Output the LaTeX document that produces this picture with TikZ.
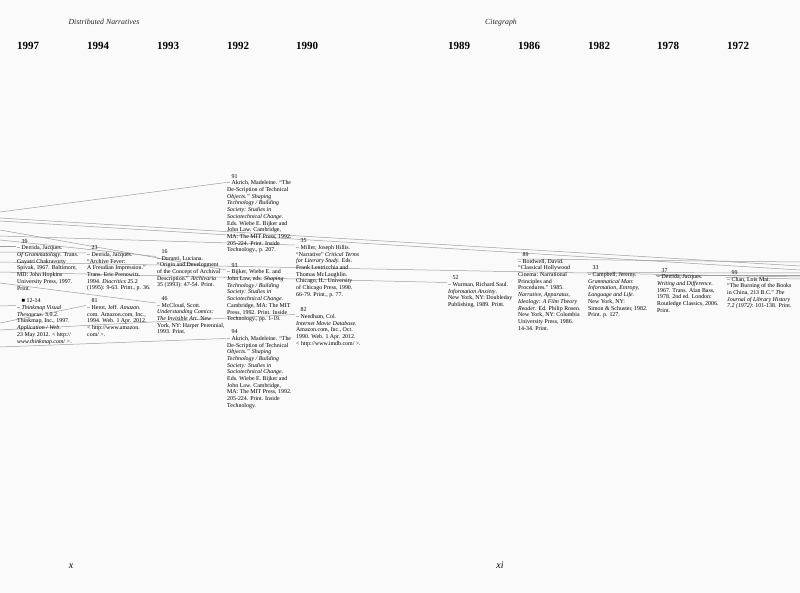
\documentclass[tikz,border=0pt]{standalone}
\usepackage{fontspec}
\setmainfont{Liberation Serif}
\begin{document}
\begin{tikzpicture}[x=1pt,y=-1pt,
  entry/.style={anchor=north west,inner sep=0pt,align=left,font=\fontsize{5.9}{6.7}\selectfont,text=black},
  year/.style={anchor=base west,inner sep=0pt,font=\fontsize{11}{13}\selectfont\bfseries},
  head/.style={anchor=base,inner sep=0pt,font=\fontsize{7.8}{9}\selectfont\itshape,text=black!85},
  pnum/.style={anchor=base,inner sep=0pt,font=\fontsize{10}{12}\selectfont\itshape},
  link/.style={draw=black!38,line width=0.5pt}]
\fill[white!98!black] (0,0) rectangle (800,593);
\useasboundingbox (0,0) rectangle (800,593);
\newcommand{\nr}[1]{\hspace*{4.5pt}#1}
% headers
\node[head] (hd1) at (104,25) {Distributed Narratives};
\node[head] (hd2) at (501,25) {Citegraph};
% years
\foreach \x/\y [count=\i] in {17/1997,87/1994,157/1993,227/1992,296/1990,448/1989,518/1986,588/1982,657/1978,727/1972}
  \node[year] (yr\i) at (\x,50) {\y};
% link end points
\coordinate (L1) at (0,212);  \coordinate (d91) at (226,182.5);
\coordinate (L2) at (0,218);  \coordinate (R2) at (800,266);
\coordinate (L3) at (0,221);  \coordinate (R3) at (800,270);
\coordinate (L4) at (0,230);  \coordinate (d93) at (226,270);
\coordinate (L5) at (0,240);  \coordinate (d16) at (156,256.5);
\coordinate (L6) at (0,246);  \coordinate (d39) at (16,246);
\coordinate (L7) at (0,252);  \coordinate (d23) at (86,253);
\coordinate (L8) at (0,262);  \coordinate (R8) at (800,277);
\coordinate (L9) at (0,283);  \coordinate (d46) at (156,303);
\coordinate (L10) at (0,306); \coordinate (d1214) at (16,305.5);
\coordinate (L11) at (0,323); \coordinate (d81) at (86,305.5);
\coordinate (L12) at (0,347); \coordinate (d94) at (226,338.5);
\coordinate (L13) at (0,236); \coordinate (d35) at (295,245);
\coordinate (L14) at (0,330); \coordinate (d82) at (295,314.5);
\coordinate (R15) at (800,262); \coordinate (d89) at (517,259);
\coordinate (R16) at (800,273); \coordinate (d33) at (587,272.5);
\coordinate (R17) at (800,275); \coordinate (d37) at (656,275);
\coordinate (R18) at (800,279); \coordinate (d99) at (726,277.5);
\coordinate (L19) at (0,272); \coordinate (d52) at (447,282.5);
% links
\draw[link] (L1) -- (d91);
\draw[link] (L2) -- (R2);
\draw[link] (L3) -- (R3);
\draw[link] (L4) -- (d93);
\draw[link] (L5) -- (d16);
\draw[link] (L6) -- (d39);
\draw[link] (L7) -- (d23);
\draw[link] (L8) -- (R8);
\draw[link] (L9) -- (d46);
\draw[link] (L10) -- (d1214);
\draw[link] (L11) -- (d81);
\draw[link] (L12) -- (d94);
\draw[link] (L13) -- (d35);
\draw[link] (L14) -- (d82);
\draw[link] (R15) -- (d89);
\draw[link] (R16) -- (d33);
\draw[link] (R17) -- (d37);
\draw[link] (R18) -- (d99);
\draw[link] (L19) -- (d52);
% entries
\node[entry] (e39) at (17,239) {\nr{39}\\– Derrida, Jacques.\\\textit{Of Grammatology}. Trans.\\Gayatri Chakravorty\\Spivak, 1967. Baltimore,\\MD: John Hopkins\\University Press, 1997.\\Print.};
\node[entry] (e1214) at (17,298.7) {\nr{■ 12-14}\\– \textit{Thinkmap Visual}\\\textit{Thesaurus}. 3.0.2.\\Thinkmap, Inc., 1997.\\\textit{Application / Web}.\\23 May 2012. {< http://}\\\textit{www.thinkmap.com/ >}.};
\node[entry] (e23) at (87,245.5) {\nr{23}\\– Derrida, Jacques.\\“Archive Fever:\\A Freudian Impression.”\\Trans. Eric Prenowitz.\\1994. \textit{Diacritics} 25.2\\(1995): 9-63. Print., p. 36.};
\node[entry] (e81) at (87,298.7) {\nr{81}\\– Herot, Jeff. \textit{Amazon.}\\com. Amazon.com, Inc.,\\1994. Web. 1 Apr. 2012.\\< http://www.amazon.\\com/ >.};
\node[entry] (e16) at (157,249.3) {\nr{16}\\– Duranti, Luciana.\\“Origin and Development\\of the Concept of Archival\\Description.” \textit{Archivaria}\\35 (1993): 47-54. Print.};
\node[entry] (e46) at (157,296.3) {\nr{46}\\– McCloud, Scott.\\\textit{Understanding Comics:}\\\textit{The Invisible Art}. New\\York, NY: Harper Perennial,\\1993. Print.};
\node[entry] (e91) at (227,174) {\nr{91}\\– Akrich, Madeleine. “The\\De-Scription of Technical\\\textit{Objects.” Shaping}\\\textit{Technology / Building}\\\textit{Society: Studies in}\\\textit{Sociotechnical Change}.\\Eds. Wiebe E. Bijker and\\John Law. Cambridge,\\MA: The MIT Press, 1992.\\205-224. Print. Inside\\Technology., p. 207.};
\node[entry] (e93) at (227,263) {\nr{93}\\– Bijker, Wiebe E. and\\John Law, eds. \textit{Shaping}\\\textit{Technology / Building}\\\textit{Society: Studies in}\\\textit{Sociotechnical Change}.\\Cambridge, MA: The MIT\\Press, 1992. Print. Inside\\Technology., pp. 1-19.};
\node[entry] (e94) at (227,329.5) {\nr{94}\\– Akrich, Madeleine. “The\\De-Scription of Technical\\\textit{Objects.” Shaping}\\\textit{Technology / Building}\\\textit{Society: Studies in}\\\textit{Sociotechnical Change}.\\Eds. Wiebe E. Bijker and\\John Law. Cambridge,\\MA: The MIT Press, 1992.\\205-224. Print. Inside\\Technology.};
\node[entry] (e35) at (296,238.5) {\nr{35}\\– Miller, Joseph Hillis.\\“Narrative” \textit{Critical Terms}\\\textit{for Literary Study}. Eds.\\Frank Lentricchia and\\Thomas McLaughlin.\\Chicago, IL: University\\of Chicago Press, 1990.\\66-79. Print., p. 77.};
\node[entry] (e82) at (296,307.5) {\nr{82}\\– Needham, Col.\\\textit{Internet Movie Database}.\\Amazon.com, Inc., Oct.\\1990. Web. 1 Apr. 2012.\\< http://www.imdb.com/ >.};
\node[entry] (e52) at (448,275.7) {\nr{52}\\– Wurman, Richard Saul.\\\textit{Information Anxiety}.\\New York, NY: Doubleday\\Publishing, 1989. Print.};
\node[entry] (e89) at (518,252.3) {\nr{89}\\– Bordwell, David.\\“Classical Hollywood\\Cinema: Narrational\\Principles and\\Procedures.” 1985.\\\textit{Narrative, Apparatus,}\\\textit{Ideology: A Film Theory}\\\textit{Reader}. Ed. Philip Rosen.\\New York, NY: Columbia\\University Press, 1986.\\14-34. Print.};
\node[entry] (e33) at (588,265.7) {\nr{33}\\– Campbell, Jeremy.\\\textit{Grammatical Man:}\\\textit{Information, Entropy,}\\\textit{Language and Life}.\\New York, NY:\\Simon \& Schuster, 1982.\\Print. p. 127.};
\node[entry] (e37) at (657,268) {\nr{37}\\– Derrida, Jacques.\\\textit{Writing and Difference}.\\1967. Trans. Alan Bass,\\1978. 2nd ed. London:\\Routledge Classics, 2006.\\Print.};
\node[entry] (e99) at (727,270.3) {\nr{99}\\– Chan, Lois Mai.\\“The Burning of the Books\\in China, 213 B.C.” \textit{The}\\\textit{Journal of Library History}\\\textit{7.2 (1972)}: 101-138. Print.};
% page numbers
\node[pnum] (p1) at (71,568) {x};
\node[pnum] (p2) at (500,568) {xi};
\end{tikzpicture}
\end{document}
